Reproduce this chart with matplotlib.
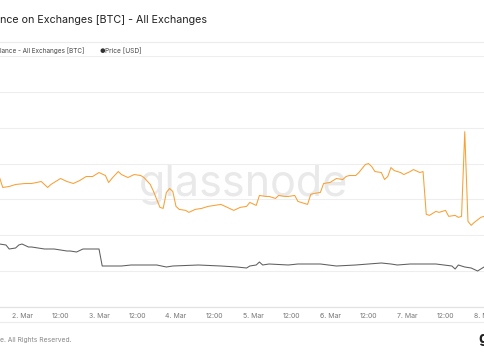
import matplotlib
matplotlib.use("Agg")
import pandas as pd
import matplotlib.pyplot as plt
import matplotlib.dates as mdates
from matplotlib.lines import Line2D

# hours since 1 Mar 00:00 and the readings at those hours
balance_hours = [17, 18, 20, 22, 25, 27, 30, 32, 33, 34, 36, 38, 40, 42, 44, 46, 48, 50, 51, 52,
                 54, 55, 57, 59, 61, 62, 64, 65, 66, 67, 68, 69, 70, 71, 72, 73, 75, 76, 78, 80,
                 82, 84, 86, 88, 90, 92, 94, 95, 97, 98, 100, 101, 103, 104, 106, 107, 109, 110,
                 112, 113, 114, 115, 117, 118, 120, 122, 124, 125, 126, 128, 129, 131, 132, 133,
                 134, 136, 137, 138, 139, 140, 142, 143, 145, 146, 148, 149, 150, 151, 153, 154,
                 156, 157, 159, 160, 161, 162, 163, 164, 165, 167, 168, 169]
balance_btc = [2411000, 2406000, 2406500, 2407500, 2408000, 2408000, 2409000, 2406000, 2407500,
               2408500, 2410500, 2409000, 2408000, 2409500, 2411500, 2411500, 2413500, 2412000,
               2408500, 2410500, 2414000, 2412500, 2411000, 2412500, 2412000, 2411000, 2407500,
               2404000, 2400000, 2396000, 2395500, 2403500, 2405500, 2404000, 2396500, 2395000,
               2394500, 2393500, 2395000, 2395500, 2396500, 2397000, 2397500, 2396000, 2394500,
               2396000, 2396500, 2398500, 2397000, 2402000, 2401500, 2401500, 2400500, 2402000,
               2401500, 2401500, 2402000, 2399000, 2398000, 2397500, 2402500, 2403000, 2403500,
               2408000, 2408500, 2410500, 2410000, 2411500, 2412000, 2412000, 2413500, 2417500,
               2418000, 2416500, 2414000, 2413500, 2410000, 2411500, 2416000, 2414500, 2413500,
               2412500, 2414000, 2415000, 2413500, 2414000, 2392500, 2392000, 2394000, 2393500,
               2394500, 2391500, 2392000, 2391000, 2391500, 2434000, 2389000, 2387000, 2388500,
               2391000, 2391500, 2390500]

price_hours = [17, 19, 20, 22, 23, 24, 26, 27, 31, 34, 36, 38, 39, 41, 43, 44, 46, 48, 49, 51,
               55, 58, 63, 66, 69, 71, 79, 86, 91, 94, 95, 97, 98, 99, 101, 107, 110, 117, 122,
               128, 136, 139, 141, 145, 153, 158, 159, 160, 162, 164, 166, 168, 169]
price_usd = [51000, 50800, 50000, 50200, 50800, 51000, 50400, 50400, 50000, 50000, 49800, 49600,
             49600, 49400, 50000, 50000, 50000, 50000, 46600, 46600, 46600, 46800, 46800, 46800,
             46400, 46600, 46800, 46600, 46400, 46200, 46600, 46800, 47400, 46800, 47000, 46800,
             47000, 47000, 46600, 46800, 47200, 47000, 46800, 47000, 47000, 46600, 46000, 46800,
             46400, 46200, 45600, 46400, 46600]

start = pd.Timestamp("2021-03-01")
bal_t = start + pd.to_timedelta(balance_hours, unit="h")
price_t = start + pd.to_timedelta(price_hours, unit="h")

plt.rcParams['font.family'] = ['Inter', 'DejaVu Sans']

fig = plt.figure(figsize=(4.85, 3.6), dpi=100)
ax = fig.add_axes([0, 1 - 307 / 360, 1, 251 / 360])
ax2 = ax.twinx()

# watermark
ax.text(0.502, 0.49, "glassnode", transform=ax.transAxes, ha="center", va="center",
        fontsize=31, color="#e9e9e9", zorder=0)

ax.plot(bal_t, balance_btc, color="#f8a035", lw=0.75, zorder=3)
ax2.plot(price_t, price_usd, color="#5e5e5e", lw=0.75)

ax.set_ylim(2346000, 2472000)
ax.set_yticks(range(2346000, 2472001, 18000))
ax2.set_ylim(38400, 88600)
ax.grid(axis="y", color="#eeeeee", lw=0.8)
ax.set_axisbelow(True)

ax.set_xlim(start + pd.Timedelta(hours=17.14), start + pd.Timedelta(hours=168.31))
ax.xaxis.set_major_locator(mdates.HourLocator(byhour=[0, 12]))


def fmt(x, pos):
    d = mdates.num2date(x)
    if d.hour == 0:
        return f"{d.day}. Mar"
    return "12:00"


ax.xaxis.set_major_formatter(plt.FuncFormatter(fmt))
ax.tick_params(axis="x", length=0, pad=4, labelsize=5, labelcolor="#777777")
ax.tick_params(axis="y", length=0, labelleft=False)
ax2.tick_params(axis="y", length=0, labelright=False)
for a in (ax, ax2):
    for s in ("top", "left", "right"):
        a.spines[s].set_visible(False)
    a.spines["bottom"].set_color("#e3e3e3")
    a.spines["bottom"].set_linewidth(0.8)

# separators
for y in (42, 322):
    fig.add_artist(Line2D([0, 1], [1 - y / 360, 1 - y / 360], color="#ececec", lw=0.8))

fig.text(0, 1 - 20 / 360, "nce on Exchanges [BTC] - All Exchanges", fontsize=7.7,
         color="#222222", va="center", ha="left")
fig.text(0, 1 - 51 / 360, "lance - All Exchanges [BTC]", fontsize=4.6, color="#444444",
         va="center", ha="left")
fig.text(100 / 485, 1 - 51 / 360, "●", fontsize=4.5, color="#333333", va="center", ha="left")
fig.text(105 / 485, 1 - 51 / 360, "Price [USD]", fontsize=4.7, color="#444444",
         va="center", ha="left")
fig.text(0, 1 - 340 / 360, "e. All Rights Reserved.", fontsize=4.8, color="#888888",
         va="center", ha="left")
fig.text(478 / 485, 1 - 339 / 360, "g", fontsize=11, color="#222222", va="center",
         ha="left", fontweight="bold")

fig.savefig("out.png", dpi=100)
